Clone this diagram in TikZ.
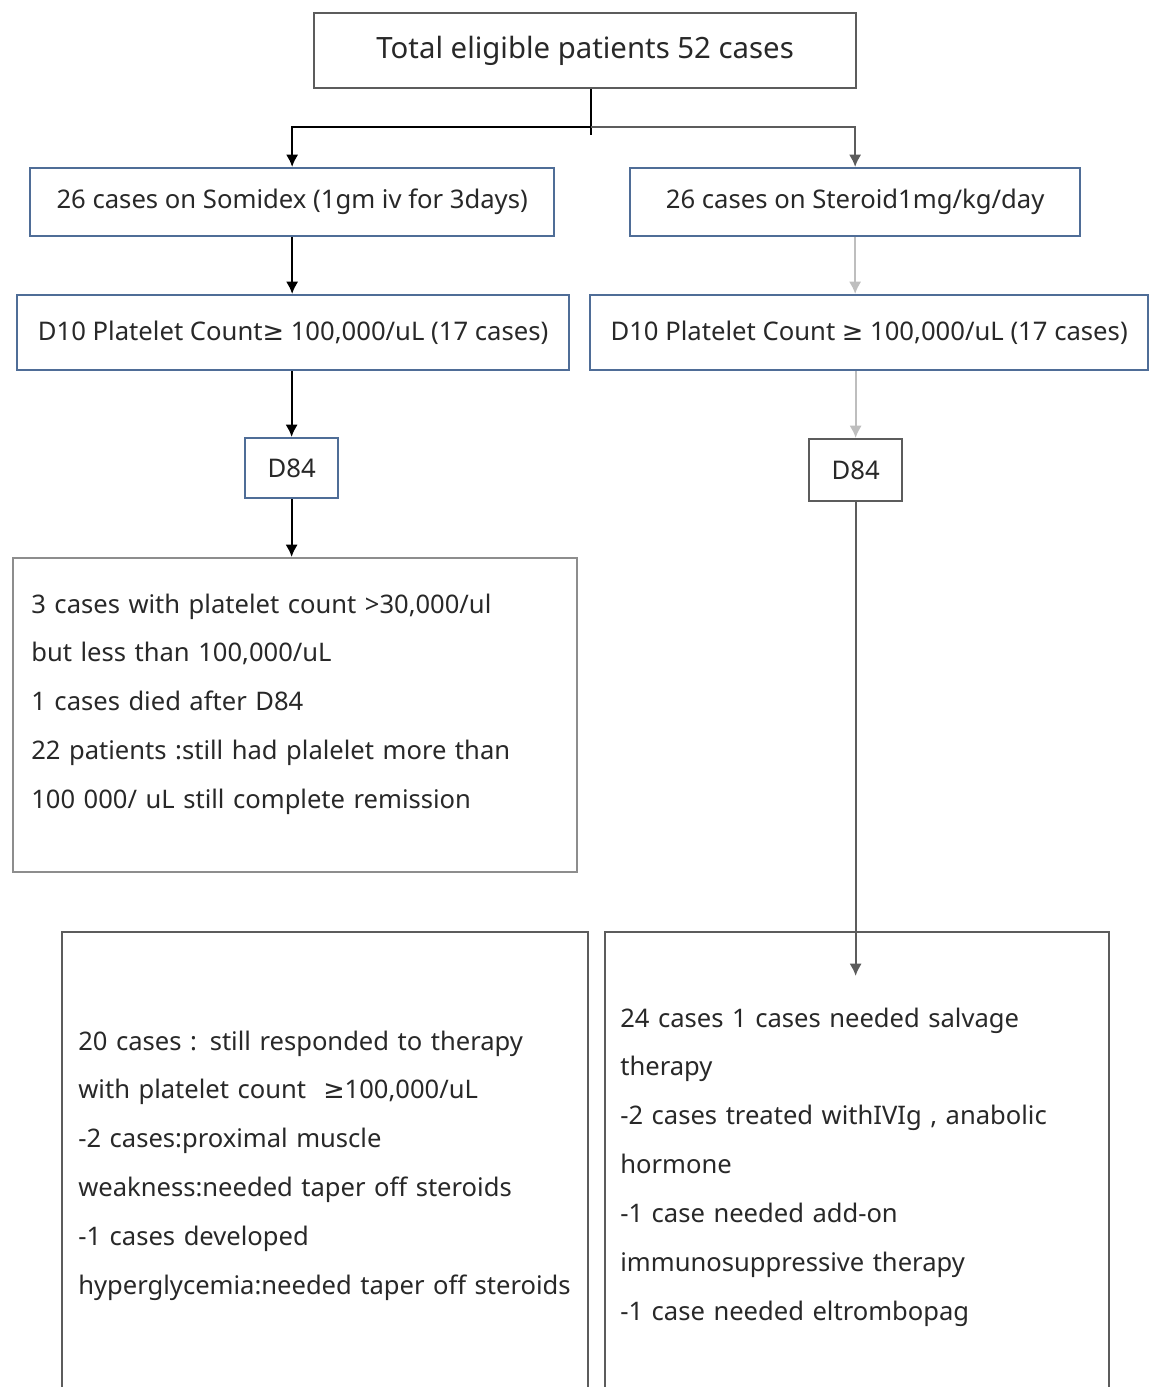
\documentclass[tikz,border=0pt]{standalone}
\usepackage{fontspec}
\setmainfont{Noto Sans}
\newfontfamily\symfont{DejaVu Sans}
\RequirePackage{tikz}
\RequirePackage{tkz-euclide}
\usetikzlibrary{calc}
\usetikzlibrary{arrows.meta}
\definecolor{boxblue}{RGB}{79,109,151}
\definecolor{boxgray}{RGB}{92,92,92}
\definecolor{linegray}{RGB}{190,190,190}
\definecolor{txtgray}{RGB}{40,40,40}
\newcommand{\px}{0.02cm}
\newcommand{\geqsign}{{\symfont ≥}}
\tikzset{
  flowbox/.style={draw=boxblue,line width=1.3pt,anchor=north west,text=txtgray,
    font=\fontsize{14.6}{17}\selectfont,inner sep=0pt},
  graybox/.style={flowbox,draw=boxgray},
  notetext/.style={anchor=base west,align=left,text=txtgray,inner sep=0pt,
    text width=510*\px,font=\fontsize{14.55}{27.8}\selectfont},
  flowarrow/.style={line width=1.3pt,-{Latex[length=7pt,width=7pt]}},
}
\begin{document}
\begin{tikzpicture}[x=\px,y=-\px]
                \clip (0,0) rectangle (1149,1387);
                \fill[white] (0,0) rectangle (1149,1387);

                \tkzDefPoint(313,12){T}
                \tkzDefPoint(29,167){L1}
                \tkzDefPoint(629,167){R1}
                \tkzDefPoint(16,294){L2}
                \tkzDefPoint(589,294){R2}
                \tkzDefPoint(244,437){L3}
                \tkzDefPoint(808,438){R3}
                \tkzDefPoint(12,557){L4}
                \tkzDefPoint(61,931){L5}
                \tkzDefPoint(604,931){R5}

                % top of the chart
                \node[graybox,minimum width=542*\px,minimum height=75*\px,
                  font=\fontsize{16.7}{19}\selectfont] (total) at (T)
                  {Total eligible patients 52 cases};

                % the two arms
                \node[flowbox,minimum width=524*\px,minimum height=68*\px] (somidex) at (L1)
                  {26 cases on Somidex (1gm iv for 3days)};
                \node[flowbox,minimum width=450*\px,minimum height=68*\px] (steroid) at (R1)
                  {26 cases on Steroid1mg/kg/day};

                \node[flowbox,minimum width=552*\px,minimum height=75*\px] (countL) at (L2)
                  {D10 Platelet Count\geqsign{} 100,000/uL (17 cases)};
                \node[flowbox,minimum width=558*\px,minimum height=75*\px] (countR) at (R2)
                  {D10 Platelet Count \geqsign{} 100,000/uL (17 cases)};

                \node[flowbox,minimum width=93*\px,minimum height=60*\px] (dayL) at (L3) {D84};
                \node[graybox,minimum width=93*\px,minimum height=62*\px] (dayR) at (R3) {D84};

                % outcome boxes
                \node[graybox,draw=boxgray!70,minimum width=564*\px,minimum height=314*\px] (outL) at (L4) {};
                \node[notetext] (outLtxt) at (31,613)
                  {3 cases with platelet count >30,000/ul\\
                   but less than 100,000/uL\\
                   1 cases died after D84\\
                   22 patients :still had plalelet more than\\
                   100 000/ uL still complete remission};

                \node[graybox,minimum width=526*\px,minimum height=470*\px] (sideL) at (L5) {};
                \node[notetext] (sideLtxt) at (78,1050)
                  {20 cases : still responded to therapy\\
                   with platelet count \ \geqsign100,000/uL\\
                   -2 cases:proximal muscle\\
                   weakness:needed taper off steroids\\
                   -1 cases developed\\
                   hyperglycemia:needed taper off steroids};

                \node[graybox,minimum width=504*\px,minimum height=470*\px] (sideR) at (R5) {};
                \node[notetext,text width=470*\px] (sideRtxt) at (620,1027)
                  {24 cases 1 cases needed salvage\\
                   therapy\\
                   -2 cases treated withIVIg , anabolic\\
                   hormone\\
                   -1 case needed add-on\\
                   immunosuppressive therapy\\
                   -1 case needed eltrombopag};

                % connectors
                \coordinate (split) at ($(total.south)+(6,38)$);
                \coordinate (endR) at (854,976);
                \draw[line width=1.3pt] ($(total.south)+(6,0)$) -- ($(split)+(0,8)$);
                \draw[flowarrow] (split) -| (somidex.north);
                \draw[flowarrow,draw=boxgray] (split) -| (steroid.north);

                \draw[flowarrow] (somidex.south) -- (somidex.south |- countL.north);
                \draw[flowarrow,draw=linegray] (steroid.south) -- (steroid.south |- countR.north);

                \draw[flowarrow] (dayL.north |- countL.south) -- (dayL.north);
                \draw[flowarrow,draw=linegray] (dayR.north |- countR.south) -- (dayR.north);

                \draw[flowarrow] (dayL.south) -- (dayL.south |- outL.north);
                \draw[flowarrow,draw=boxgray] (dayR.south) -- (dayR.south |- endR);
            \end{tikzpicture}
\end{document}
